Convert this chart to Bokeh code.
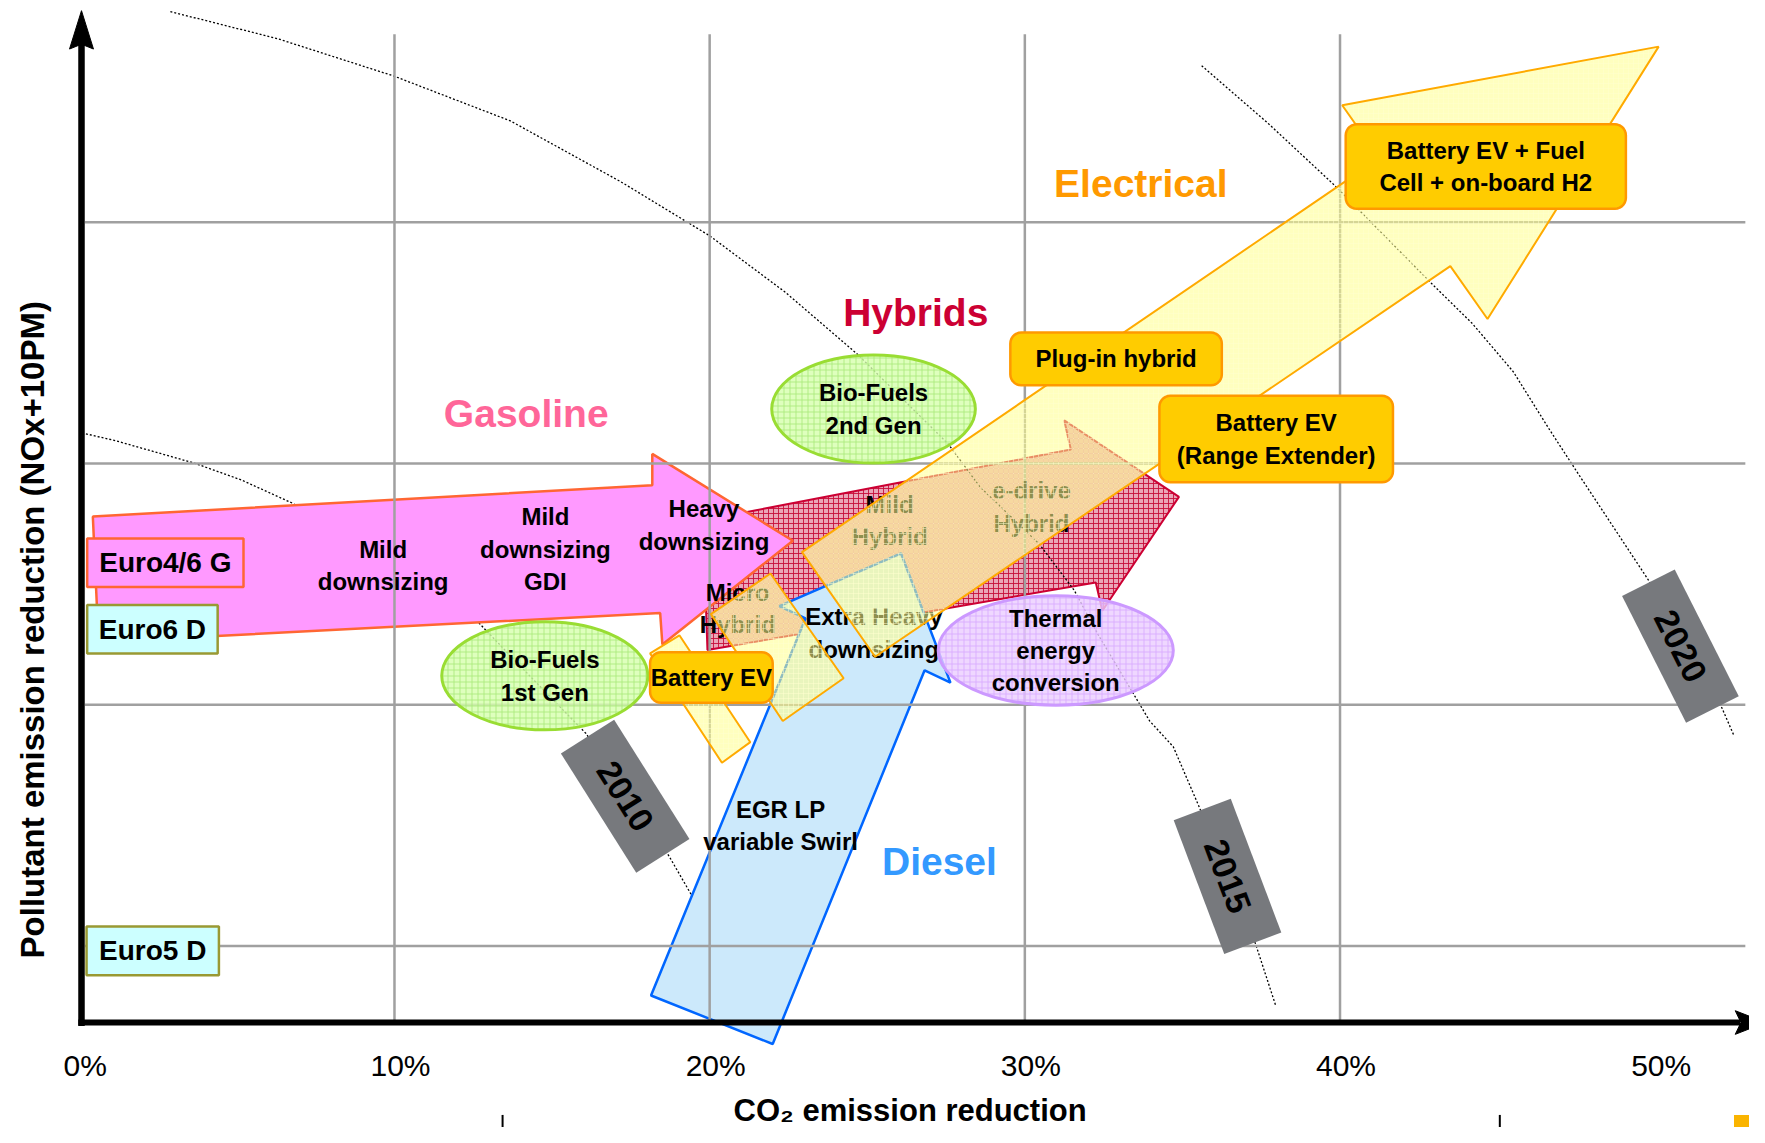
import numpy as np
from bokeh.plotting import figure
from bokeh.models import Range1d
from bokeh.core.properties import value
from bokeh.embed import file_html
from bokeh.resources import INLINE

# ---------------- data (x = CO2 reduction in %, y = pollutant reduction, grid units) ----------------
tick_values = [0, 10, 20, 30, 40, 50]
tick_labels = ["0%", "10%", "20%", "30%", "40%", "50%"]
grid_x = [10, 20, 30, 40]
grid_y = [1, 2, 3, 4]

# iso-year dotted curves
iso_2010_x = [0.21, 1.14, 3.64, 5.14, 6.79, 9.64, 12.68, 14.29, 16.07, 18.71, 19.43]
iso_2010_y = [3.123, 3.095, 3.002, 2.932, 2.834, 2.586, 2.339, 2.120, 1.882, 1.373, 1.210]
iso_2015_x = [2.89, 6.29, 9.96, 13.68, 17.18, 20.0, 22.4, 24.68, 27.57, 28.57, 30.46, 31.57, 32.32,
              33.96, 34.71, 35.54, 37.32, 37.96]
iso_2015_y = [4.873, 4.761, 4.607, 4.420, 4.168, 3.944, 3.71, 3.454, 3.081, 2.904, 2.666, 2.474, 2.292,
              1.933, 1.826, 1.574, 1.009, 0.753]
iso_2020_x = [35.61, 37.71, 39.82, 42.93, 44.2, 45.5, 46.6, 47.5, 49.79, 52.11, 52.5]
iso_2020_y = [4.649, 4.411, 4.154, 3.743, 3.58, 3.38, 3.15, 2.969, 2.516, 1.989, 1.872]

# technology arrows (outline vertices)
gasoline_x = [0.43, 18.18, 18.18, 22.64, 18.50, 18.43, 0.61]
gasoline_y = [2.78, 2.91, 3.04, 2.68, 2.25, 2.38, 2.26]
hybrid_x = [19.79, 31.46, 31.25, 34.89, 32.46, 32.25, 19.93]
hybrid_y = [2.764, 3.058, 3.179, 2.862, 2.390, 2.507, 2.227]
diesel_x = [18.14, 23.04, 22.21, 26.07, 27.64, 26.82, 22.00]
diesel_y = [0.795, 2.358, 2.409, 2.628, 2.092, 2.143, 0.594]
electric_x = [22.93, 41.25, 40.07, 50.11, 44.68, 43.50, 25.25]
electric_y = [2.633, 4.266, 4.485, 4.728, 3.599, 3.818, 2.199]
ev_band_x = [18.11, 19.04, 21.29, 20.39]
ev_band_y = [2.213, 2.288, 1.845, 1.760]
ev_square_x = [20.04, 21.93, 24.25, 22.32]
ev_square_y = [2.376, 2.544, 2.110, 1.933]

inner_labels = ["Mild\ndownsizing", "Mild\ndownsizing\nGDI", "Heavy\ndownsizing", "Micro\nHybrid",
                "Mild\nHybrid", "e-drive\nHybrid", "Extra Heavy\ndownsizing", "EGR LP\nvariable Swirl"]
inner_x = [9.64, 14.79, 19.82, 20.89, 25.71, 30.21, 25.21, 22.25]
inner_y = [2.577, 2.645, 2.745, 2.400, 2.764, 2.820, 2.297, 1.499]

ellipse_labels = ["Bio-Fuels\n2nd Gen", "Bio-Fuels\n1st Gen", "Thermal\nenergy\nconversion"]
ellipse_x = [25.20, 14.77, 30.98]
ellipse_y = [3.226, 2.120, 2.225]
ellipse_w = [6.46, 6.54, 7.46]
ellipse_h = [0.448, 0.448, 0.453]

box_labels = ["Battery EV + Fuel\nCell + on-board H2", "Plug-in hybrid", "Battery EV\n(Range Extender)", "Battery EV"]
box_x0 = [40.18, 29.54, 34.27, 18.11]
box_x1 = [49.07, 36.25, 41.68, 22.00]
box_y0 = [4.056, 3.324, 2.922, 2.008]
box_y1 = [4.406, 3.543, 3.281, 2.218]

euro_labels = ["Euro4/6 G", "Euro6 D", "Euro5 D"]
euro_x0 = [0.25, 0.25, 0.23]
euro_x1 = [5.21, 4.39, 4.43]
euro_y0 = [2.488, 2.213, 0.879]
euro_y1 = [2.689, 2.414, 1.081]

year_labels = ["2010", "2015", "2020"]
year_x = [17.32, 36.43, 50.80]
year_y = [1.621, 1.289, 2.243]
year_angle = [-57.7, -69.3, -63.2]

family_labels = ["Gasoline", "Hybrids", "Electrical", "Diesel"]
family_x = [14.18, 26.54, 33.68, 27.29]
family_y = [3.207, 3.627, 4.159, 1.350]
family_colors = ["#ff6699", "#cc0033", "#ff9900", "#3399ff"]

# ---------------- figure ----------------
W, H = 1749, 1127
X0, X1 = -2.4999, 52.992
Y0, Y1 = 0.2479, 4.9192
PXX = W / (X1 - X0)
PXY = H / (Y1 - Y0)
AXIS_Y = 0.683
AXIS_X = 0.07

FONT = value("Liberation Sans")

p = figure(width=W, height=H, x_range=Range1d(X0, X1), y_range=Range1d(Y0, Y1),
           x_axis_location=None, y_axis_location=None, toolbar_location=None,
           output_backend="svg", min_border=0, outline_line_color=None,
           background_fill_color="white", border_fill_color="white")
p.grid.visible = False
p.xgrid.grid_line_color = None
p.ygrid.grid_line_color = None


def txt(x, y, t, size, color="black", bold=True, angle=0, align="center"):
    p.text(x=x, y=y, text=t, text_font=FONT, text_font_size=size,
           text_font_style="bold" if bold else "normal", text_color=color,
           text_align=align, text_baseline="middle", angle=angle, text_line_height=1.2)


def rounded(x0, x1, y0, y1, r=11, n=8):
    rx, ry = r / PXX, r / PXY
    xs, ys = [], []
    for cx, cy, a0 in [(x1 - rx, y1 - ry, 0), (x0 + rx, y1 - ry, 90),
                       (x0 + rx, y0 + ry, 180), (x1 - rx, y0 + ry, 270)]:
        for t in np.linspace(np.radians(a0), np.radians(a0 + 90), n):
            xs.append(cx + rx * np.cos(t))
            ys.append(cy + ry * np.sin(t))
    return xs, ys


# hybrid arrow
p.patch(hybrid_x, hybrid_y, fill_color="#eaa6b8", line_color="#cc0033", line_width=2,
        hatch_pattern="+", hatch_color="#c8103c", hatch_scale=5, hatch_weight=1, hatch_alpha=0.9)

# iso-year curves
for cx, cy in [(iso_2010_x, iso_2010_y), (iso_2015_x, iso_2015_y), (iso_2020_x, iso_2020_y)]:
    p.line(cx, cy, line_color="black", line_width=1.3, line_dash="2 2")

# gasoline and diesel arrows
p.patch(gasoline_x, gasoline_y, fill_color="#ff99ff", line_color="#ff6633", line_width=2.5)
p.patch(diesel_x, diesel_y, fill_color="#cce9fb", line_color="#0066ff", line_width=2.5)

# grid
p.segment(x0=grid_x, y0=[AXIS_Y] * 4, x1=grid_x, y1=[4.779] * 4, line_color="#a0a0a0", line_width=2.5)
p.segment(x0=[0.18] * 4, y0=grid_y, x1=[52.86] * 4, y1=grid_y, line_color="#a0a0a0", line_width=2.5)

# labels inside arrows
txt(inner_x, inner_y, inner_labels, "24px")

# ellipses
p.ellipse(x=ellipse_x[:2], y=ellipse_y[:2], width=ellipse_w[:2], height=ellipse_h[:2],
          fill_color="#d6ffad", fill_alpha=0.8, line_color="#99dd33", line_width=3,
          hatch_pattern="+", hatch_color="#a8e878", hatch_scale=6, hatch_weight=1, hatch_alpha=0.8)
p.ellipse(x=ellipse_x[2:], y=ellipse_y[2:], width=ellipse_w[2:], height=ellipse_h[2:],
          fill_color="#ebcdff", fill_alpha=0.8, line_color="#cc99ff", line_width=3,
          hatch_pattern="+", hatch_color="#d7a8ff", hatch_scale=6, hatch_weight=1, hatch_alpha=0.8)
txt(ellipse_x, ellipse_y, ellipse_labels, "24px")

# electrical (yellow) shapes
for sx, sy in [(ev_band_x, ev_band_y), (ev_square_x, ev_square_y), (electric_x, electric_y)]:
    p.patch(sx, sy, fill_color="#ffff8c", fill_alpha=0.56, line_color="#ffaa00", line_width=2,
            hatch_pattern="+", hatch_color="#ffffd0", hatch_scale=5, hatch_weight=1, hatch_alpha=0.5)

# orange rounded boxes
bxs, bys = [], []
for a, b, c, d in zip(box_x0, box_x1, box_y0, box_y1):
    xs, ys = rounded(a, b, c, d)
    bxs.append(xs)
    bys.append(ys)
p.patches(bxs, bys, fill_color="#ffcc00", line_color="#ff9900", line_width=2.5)
txt([(a + b) / 2 for a, b in zip(box_x0, box_x1)], [(c + d) / 2 for c, d in zip(box_y0, box_y1)],
    box_labels, "24px")

# Euro boxes
p.quad(left=euro_x0, right=euro_x1, bottom=euro_y0, top=euro_y1,
       fill_color=["#ff99ff", "#ccffff", "#ccffff"], line_color=["#ff6633", "#999933", "#999933"],
       line_width=2.5)
txt([(a + b) / 2 for a, b in zip(euro_x0, euro_x1)], [(c + d) / 2 for c, d in zip(euro_y0, euro_y1)],
    euro_labels, "28px")

# year tags
p.rect(x=year_x, y=year_y, width=[141, 143, 142], height=[63, 61, 59],
       width_units="screen", height_units="screen", angle=np.radians(year_angle),
       fill_color="#77797d", line_color=None)
for yx, yy, yl, ya in zip(year_x, year_y, year_labels, year_angle):
    txt([yx], [yy], [yl], "34px", angle=np.radians(ya))

# family titles
p.text(x=family_x, y=family_y, text=family_labels, text_font=FONT, text_font_size="39px",
       text_font_style="bold", text_color=family_colors, text_align="center", text_baseline="middle")

# axes
p.segment(x0=[AXIS_X], y0=[0.669], x1=[AXIS_X], y1=[4.74], line_color="black", line_width=6.5)
p.patch([AXIS_X, AXIS_X - 0.38, AXIS_X, AXIS_X + 0.38], [4.877, 4.718, 4.738, 4.718], color="black")
p.segment(x0=[-0.03], y0=[AXIS_Y], x1=[52.7], y1=[AXIS_Y], line_color="black", line_width=6)
p.patch([53.5, 52.54, 52.72, 52.54], [AXIS_Y, AXIS_Y + 0.049, AXIS_Y, AXIS_Y - 0.049], color="black")

p.text(x=tick_values, y=[0.505] * len(tick_values), text=tick_labels, text_font=FONT,
       text_font_size="30px", text_color="black", text_align="center", text_baseline="middle",
       x_offset=6)
txt([-1.5], [2.33], ["Pollutant emission reduction  (NOx+10PM)"], "33px", angle=np.pi / 2)
txt([26.36], [0.318], ["CO\u2082 emission reduction"], "31px")

# slide footer marks
p.segment(x0=[13.43, 45.07], y0=[0.300, 0.300], x1=[13.43, 45.07], y1=[0.2, 0.2],
          line_color="black", line_width=2)
p.quad(left=[52.5], right=[53.6], bottom=[0.2], top=[0.300], fill_color="#fab400", line_color=None)

open("out.html", "w").write(file_html(p, INLINE))
